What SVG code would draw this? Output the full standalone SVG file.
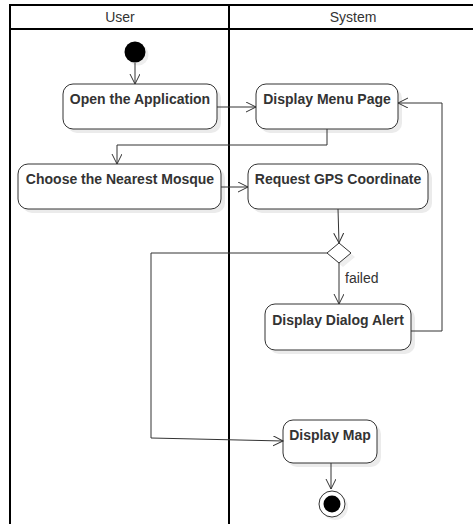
<svg xmlns="http://www.w3.org/2000/svg" width="473" height="524" viewBox="0 0 473 524">
<defs>
<marker id="arr" markerWidth="12" markerHeight="12" refX="10" refY="5" orient="auto" markerUnits="userSpaceOnUse">
<path d="M0,0 L10,5 L0,10" fill="none" stroke="#333" stroke-width="1"/>
</marker>
</defs>
<style>
.lane{stroke:#000;stroke-width:2;fill:none}
.hdr{font-family:"Liberation Sans",Arial,sans-serif;font-size:14px;fill:#333;text-anchor:middle}
.box{fill:#fff;stroke:#333;stroke-width:1}
.shd{fill:#ebebeb;stroke:none}
.lbl{font-family:"Liberation Sans",Arial,sans-serif;font-size:14px;font-weight:bold;fill:#333;text-anchor:middle}
.edge{fill:none;stroke:#333;stroke-width:1;marker-end:url(#arr)}
.guard{font-family:"Liberation Sans",Arial,sans-serif;font-size:14px;fill:#333}
</style>
<rect width="473" height="524" fill="#fff"/>
<g id="swimlanes">
<line class="lane" x1="10" y1="5" x2="473" y2="5"/>
<line class="lane" x1="10" y1="29" x2="473" y2="29"/>
<line class="lane" x1="10" y1="4" x2="10" y2="524"/>
<line class="lane" x1="229" y1="4" x2="229" y2="524"/>
<text class="hdr" x="120" y="22">User</text>
<text class="hdr" x="353" y="22">System</text>
</g>
<g id="start">
<circle cx="138" cy="55" r="10.5" fill="#eee"/>
<circle cx="135" cy="52" r="10.5" fill="#000"/>
</g>
<g id="open">
<rect class="shd" x="67" y="88" width="154" height="45" rx="10"/>
<rect class="box" x="63" y="84" width="154" height="45" rx="10"/>
<text class="lbl" x="140" y="104">Open the Application</text>
</g>
<g id="menu">
<rect class="shd" x="260" y="88" width="142" height="45" rx="10"/>
<rect class="box" x="256" y="84" width="142" height="45" rx="10"/>
<text class="lbl" x="327" y="104">Display Menu Page</text>
</g>
<g id="choose">
<rect class="shd" x="22" y="168" width="203" height="45" rx="10"/>
<rect class="box" x="18" y="164" width="203" height="45" rx="10"/>
<text class="lbl" x="120" y="184">Choose the Nearest Mosque</text>
</g>
<g id="request">
<rect class="shd" x="252" y="168" width="180" height="45" rx="10"/>
<rect class="box" x="248" y="164" width="180" height="45" rx="10"/>
<text class="lbl" x="338" y="184">Request GPS Coordinate</text>
</g>
<g id="decision">
<path d="M343,247 L355,257 L343,267 L331,257 Z" fill="#eee"/>
<path d="M339,243 L351,253 L339,263 L327,253 Z" fill="#fff" stroke="#333" stroke-width="1"/>
</g>
<g id="alert">
<rect class="shd" x="269" y="308" width="146" height="46" rx="10"/>
<rect class="box" x="265" y="304" width="146" height="46" rx="10"/>
<text class="lbl" x="338" y="325">Display Dialog Alert</text>
</g>
<g id="map">
<rect class="shd" x="287" y="424" width="94" height="43" rx="10"/>
<rect class="box" x="283" y="420" width="94" height="43" rx="10"/>
<text class="lbl" x="330" y="440">Display Map</text>
</g>
<g id="end">
<circle cx="335" cy="507" r="13" fill="#eee"/>
<circle cx="332" cy="504" r="13" fill="#fff" stroke="#333" stroke-width="1"/>
<circle cx="332" cy="504" r="8.5" fill="#000"/>
</g>
<g id="connectors">
<path class="edge" d="M135,63 L135,84"/>
<path class="edge" d="M217,107 L256,107"/>
<path class="edge" d="M327,129 L327,145 L117,145 L117,164"/>
<path class="edge" d="M221,187 L248,187"/>
<path class="edge" d="M338,209 L339,243"/>
<path class="edge" d="M339,263 L339,304"/>
<text class="guard" x="345" y="283">failed</text>
<path class="edge" d="M411,331 L442,331 L442,103 L398,103"/>
<path class="edge" d="M327,253 L151,253 L151,438 L283,441"/>
<path class="edge" d="M331,463 L331,489"/>
</g>
</svg>
